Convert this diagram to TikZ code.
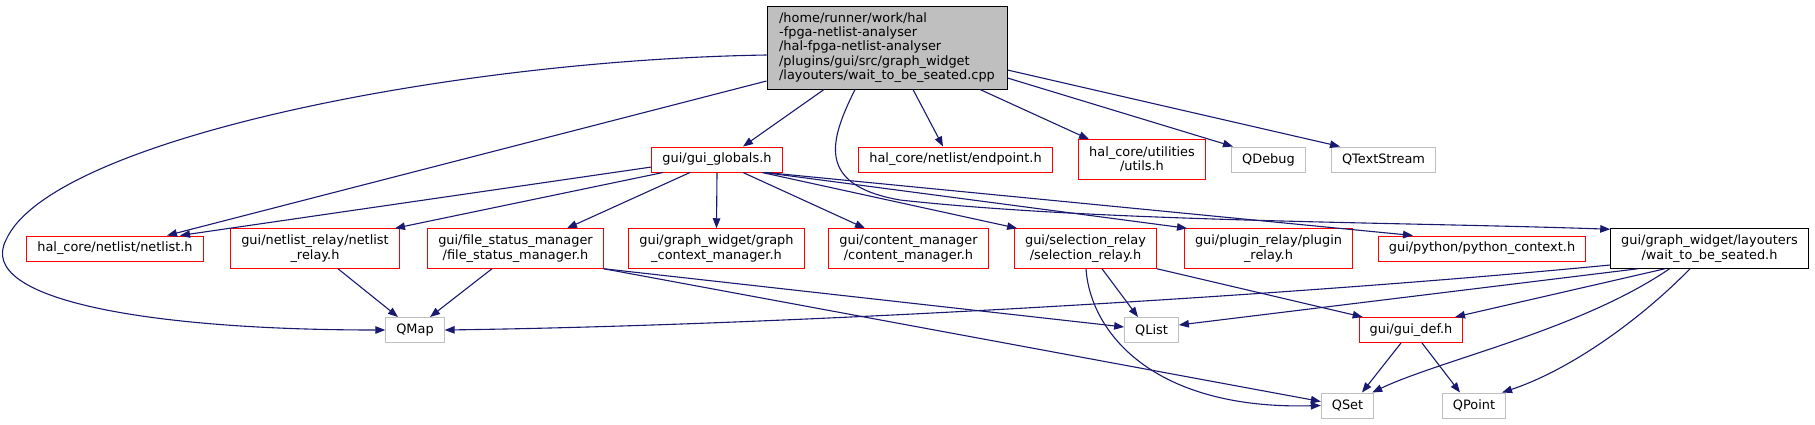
\documentclass[tikz,border=0pt]{standalone}
\usepackage{fontspec}
\setmainfont{DejaVu Sans}
\usepackage{tikz}
\usetikzlibrary{arrows.meta, calc}

\definecolor{edgeblue}{HTML}{191970}
\definecolor{extgray}{HTML}{BFBFBF}
\newcommand{\doxfont}{\fontsize{12.9}{14.3}\selectfont}

\begin{document}
\begin{tikzpicture}[x=1pt, y=-1pt, ->, >={Triangle[length=10pt,width=7.5pt]},
    file/.style={rectangle, draw, fill=white, line width=1pt, inner xsep=10.5pt,
      inner ysep=2pt, minimum height=25pt, font=\doxfont, align=center},
    twoline/.style={minimum height=39.5pt},
    incl/.style={file, draw=red},
    ext/.style={file, draw=extgray},
    hdr/.style={file, draw=black},
    src/.style={file, draw=black, fill=extgray, align=left, minimum width=240pt, minimum height=83pt},
    dep/.style={draw=edgeblue, line width=1.1pt}]
  \useasboundingbox (0,0) rectangle (1815,424);

  % source file
  \node[src] (root) at (887,47.5) {/home/runner/work/hal\\-fpga-netlist-analyser\\/hal-fpga-netlist-analyser\\/plugins/gui/src/graph\_widget\\/layouters/wait\_to\_be\_seated.cpp};

  % first level
  \node[incl] (globals) at (717,159.5) {gui/gui\_globals.h};
  \node[incl] (endpoint) at (955.5,159.5) {hal\_core/netlist/endpoint.h};
  \node[incl, twoline] (utils) at (1142,159.5) {hal\_core/utilities\\/utils.h};
  \node[ext] (qdebug) at (1268.5,159.5) {QDebug};
  \node[ext] (qtextstream) at (1383.5,159.5) {QTextStream};

  % second level
  \node[incl] (netlist) at (115,248.5) {hal\_core/netlist/netlist.h};
  \node[incl, twoline] (netrelay) at (315,248.5) {gui/netlist\_relay/netlist\\\_relay.h};
  \node[incl, twoline] (filestatus) at (515.5,248.5) {gui/file\_status\_manager\\/file\_status\_manager.h};
  \node[incl, twoline] (graphctx) at (716.5,248.5) {gui/graph\_widget/graph\\\_context\_manager.h};
  \node[incl, twoline] (content) at (908.5,248.5) {gui/content\_manager\\/content\_manager.h};
  \node[incl, twoline] (selrelay) at (1085.5,248.5) {gui/selection\_relay\\/selection\_relay.h};
  \node[incl, twoline] (plugrelay) at (1268.5,248.5) {gui/plugin\_relay/plugin\\\_relay.h};
  \node[incl] (pyctx) at (1482,248.5) {gui/python/python\_context.h};
  \node[hdr, twoline] (waitseated) at (1709.5,248.5) {gui/graph\_widget/layouters\\/wait\_to\_be\_seated.h};

  % third level
  \node[ext] (qmap) at (415,330) {QMap};
  \node[ext] (qlist) at (1151.5,330) {QList};
  \node[incl] (guidef) at (1411,330) {gui/gui\_def.h};

  % fourth level
  \node[ext] (qset) at (1347.5,405.5) {QSet};
  \node[ext] (qpoint) at (1474,405.5) {QPoint};

  \path[every edge/.style={dep}]
    ([yshift=-33.5pt]root.west) edge ([xshift=52pt]netlist.north)
    ([xshift=-63pt]root.south) edge ([xshift=26pt]globals.north)
    ([xshift=26pt]root.south) edge ([xshift=-12.5pt]endpoint.north)
    ([xshift=93pt]root.south) edge ([xshift=-53pt]utils.north)
    ([yshift=-30.5pt]root.east) edge ([xshift=-35.5pt]qdebug.north)
    ([yshift=-22.5pt]root.east) edge ([xshift=-43.5pt]qtextstream.north)
    ([yshift=-7.5pt]globals.west) edge ([xshift=65pt]netlist.north)
    ([xshift=-54pt]globals.south) edge ([xshift=80pt]netrelay.north)
    ([xshift=-27pt]globals.south) edge ([xshift=51.5pt]filestatus.north)
    (globals.south) edge (graphctx.north)
    ([xshift=26pt]globals.south) edge ([xshift=-43.5pt]content.north)
    ([xshift=45pt]globals.south) edge ([xshift=3pt]selrelay.north west)
    ([xshift=47pt]globals.south) edge ([xshift=3pt]plugrelay.north west)
    ([xshift=49pt]globals.south) edge ([xshift=-69pt]pyctx.north)
    ([xshift=23pt]netrelay.south) edge ([xshift=-17pt]qmap.north)
    ([xshift=-23.5pt]filestatus.south) edge ([xshift=15pt]qmap.north)
    (filestatus.south east) edge ([yshift=3pt]qlist.west)
    (filestatus.south east) edge ([yshift=4pt]qset.west)
    ([xshift=16.5pt]selrelay.south) edge ([xshift=-13.5pt]qlist.north)
    (selrelay.south east) edge ([xshift=4pt]guidef.north west)
    ([xshift=-71.5pt]waitseated.south) edge ([yshift=5pt]qlist.east)
    ([xshift=-44.5pt]waitseated.south) edge ([xshift=44pt]guidef.north)
    ([xshift=-10pt]guidef.south) edge ([xshift=14.5pt]qset.north)
    ([xshift=11pt]guidef.south) edge ([xshift=-14pt]qpoint.north);

  % long curved dependencies
  \draw[dep] ([yshift=-7.5pt]root.west) .. controls (450,60) and (50,140) .. (6,240)
    .. controls (-25,300) and (150,330) .. (qmap.west);
  \draw[dep] ([xshift=-32pt]root.south) .. controls (830,140) and (815,185) .. (900,200)
    .. controls (1100,222) and (1400,222) .. ([yshift=-1pt]waitseated.north west);
  \draw[dep] ([yshift=-16.5pt]waitseated.west) .. controls (1300,295) and (800,325) .. (qmap.east);
  \draw[dep] ([xshift=-40pt]waitseated.south) .. controls (1580,330) and (1440,360) .. ([xshift=-2pt]qset.north east);
  \draw[dep] ([xshift=-19.5pt]waitseated.south) .. controls (1640,320) and (1570,370) .. ([xshift=-4pt]qpoint.north east);
  \draw[dep] ([xshift=0.5pt]selrelay.south) .. controls (1090,330) and (1150,410) .. (qset.west);
\end{tikzpicture}
\end{document}
